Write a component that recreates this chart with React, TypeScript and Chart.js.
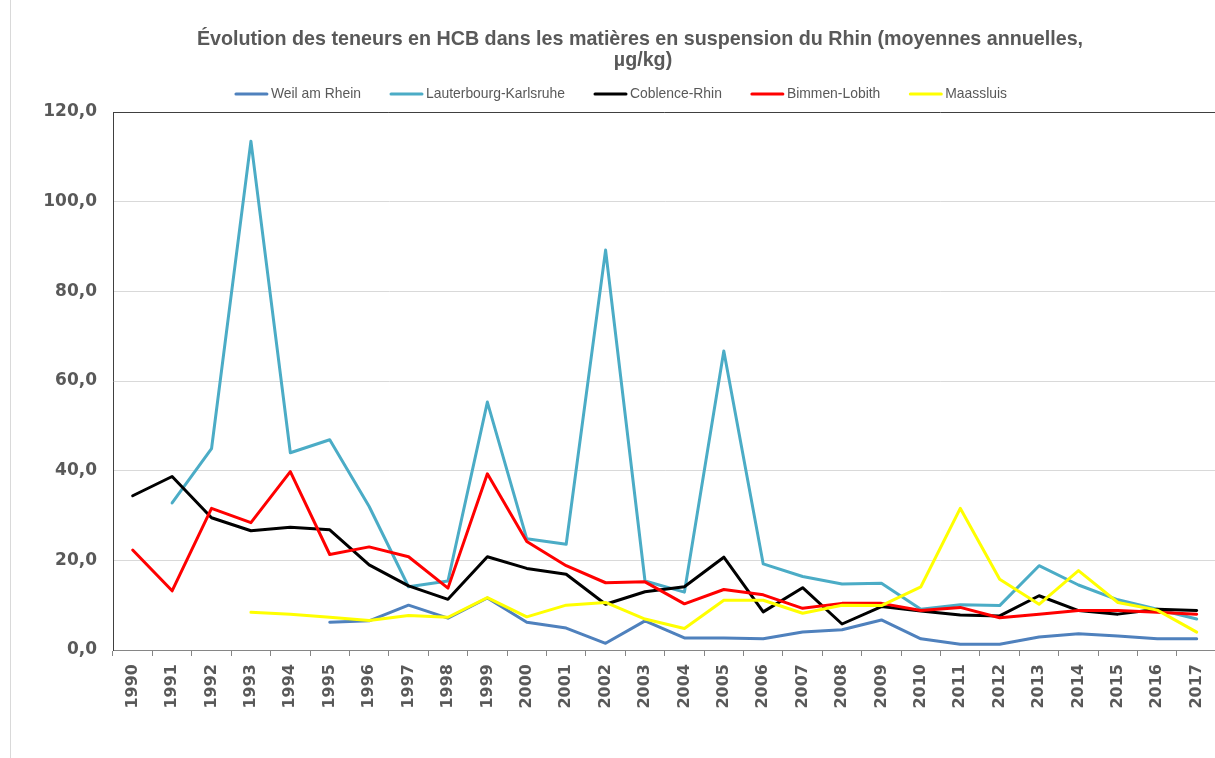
import React, { useEffect, useRef } from "react";
import { Chart, registerables } from "chart.js";

Chart.register(...registerables);

const years = [
  "1990", "1991", "1992", "1993", "1994", "1995", "1996", "1997", "1998", "1999",
  "2000", "2001", "2002", "2003", "2004", "2005", "2006", "2007", "2008", "2009",
  "2010", "2011", "2012", "2013", "2014", "2015", "2016", "2017",
];

const weilAmRhein = [
  null, null, null, null, null, 6.2, 6.5, 10.0, 7.1, 11.6,
  6.2, 4.9, 1.5, 6.5, 2.7, 2.7, 2.5, 4.0, 4.5, 6.7,
  2.5, 1.3, 1.3, 2.9, 3.6, 3.1, 2.5, 2.5,
];
const lauterbourgKarlsruhe = [
  null, 32.8, 44.9, 113.5, 44.0, 46.9, 32.0, 14.1, 15.4, 55.3,
  24.8, 23.6, 89.2, 15.4, 12.9, 66.7, 19.2, 16.4, 14.7, 14.9,
  9.1, 10.1, 9.9, 18.8, 14.5, 11.2, 9.1, 6.9,
];
const coblenceRhin = [
  34.4, 38.7, 29.5, 26.6, 27.4, 26.8, 19.0, 14.3, 11.3, 20.8,
  18.2, 16.9, 10.2, 13.0, 14.1, 20.7, 8.5, 13.9, 5.8, 9.7,
  8.7, 7.8, 7.6, 12.1, 8.8, 8.0, 9.1, 8.8,
];
const bimmenLobith = [
  22.3, 13.2, 31.6, 28.4, 39.8, 21.3, 23.0, 20.8, 13.8, 39.3,
  24.2, 18.8, 15.0, 15.2, 10.3, 13.5, 12.3, 9.3, 10.4, 10.4,
  8.8, 9.5, 7.2, 8.0, 8.8, 8.8, 8.4, 8.0,
];
const maassluis = [
  null, null, null, 8.4, 8.0, 7.3, 6.6, 7.7, 7.3, 11.7,
  7.4, 10.0, 10.6, 6.9, 4.8, 11.1, 11.1, 8.2, 10.0, 9.9,
  14.1, 31.6, 15.8, 10.2, 17.7, 10.6, 8.9, 4.0,
];

const seriesNames = ["Weil am Rhein", "Lauterbourg-Karlsruhe", "Coblence-Rhin", "Bimmen-Lobith", "Maassluis"];
const seriesColors = ["#4F81BD", "#4BACC6", "#000000", "#FF0000", "#FFFF00"];
const seriesValues = [weilAmRhein, lauterbourgKarlsruhe, coblenceRhin, bimmenLobith, maassluis];

const titleLines = [
  "Évolution des teneurs en HCB dans les matières en suspension du Rhin (moyennes annuelles,",
  "µg/kg)",
];

const textColor = "#595959";

const decorPlugin = {
  id: "decor",
  afterDraw(chart: any) {
    const { ctx, chartArea } = chart;
    ctx.save();
    // outer chart border (left edge)
    ctx.strokeStyle = "#d9d9d9";
    ctx.lineWidth = 1;
    ctx.beginPath();
    ctx.moveTo(10.5, 0);
    ctx.lineTo(10.5, chart.height);
    ctx.stroke();
    // plot area top border
    ctx.strokeStyle = "#404040";
    ctx.beginPath();
    ctx.moveTo(chartArea.left, Math.round(chartArea.top) + 0.5);
    ctx.lineTo(chartArea.right, Math.round(chartArea.top) + 0.5);
    ctx.stroke();

    // title
    ctx.fillStyle = textColor;
    ctx.font = "bold 19.7px 'Liberation Sans', Arial, sans-serif";
    ctx.textAlign = "center";
    ctx.textBaseline = "middle";
    ctx.fillText(titleLines[0], 640, 40);
    ctx.fillText(titleLines[1], 643, 61);

    // legend
    ctx.font = "13.9px 'Liberation Sans', Arial, sans-serif";
    const sampleW = 33;
    const gapText = 3;
    const gapItem = 29;
    const widths = seriesNames.map((n) => ctx.measureText(n).width);
    const total =
      widths.reduce((a: number, w: number) => a + sampleW + gapText + w, 0) + gapItem * (seriesNames.length - 1);
    let x = 621 - total / 2;
    const y = 94;
    ctx.textAlign = "left";
    seriesNames.forEach((name, i) => {
      ctx.strokeStyle = seriesColors[i];
      ctx.lineWidth = 3;
      ctx.lineCap = "round";
      ctx.beginPath();
      ctx.moveTo(x + 1, y);
      ctx.lineTo(x + sampleW - 1, y);
      ctx.stroke();
      ctx.fillStyle = textColor;
      ctx.fillText(name, x + sampleW + gapText, y);
      x += sampleW + gapText + widths[i] + gapItem;
    });
    ctx.restore();
  },
};

export default function App() {
  const canvasRef = useRef<HTMLCanvasElement | null>(null);

  useEffect(() => {
    if (!canvasRef.current) return;
    const datasets = seriesNames.map((name, i) => ({
      label: name,
      data: seriesValues[i],
      borderColor: seriesColors[i],
      backgroundColor: seriesColors[i],
      borderWidth: 3,
      borderJoinStyle: "round" as const,
      borderCapStyle: "round" as const,
      pointRadius: 0,
      pointHoverRadius: 0,
      tension: 0,
      fill: false,
      spanGaps: false,
      order: seriesNames.length - 1 - i,
    }));

    const chart = new Chart(canvasRef.current, {
      type: "line",
      data: { labels: years, datasets },
      options: {
        animation: false,
        responsive: true,
        maintainAspectRatio: false,
        layout: { padding: { top: 112, left: 0, right: 8.6, bottom: 0 } },
        plugins: {
          legend: { display: false },
          title: { display: false },
          tooltip: { enabled: false },
        },
        scales: {
          x: {
            type: "category",
            offset: true,
            afterFit: (scale: any) => {
              scale.height = 108;
            },
            grid: {
              offset: true,
              drawOnChartArea: false,
              drawTicks: true,
              tickLength: 6,
              color: "#868686",
            },
            border: { display: true, color: "#868686", width: 1 },
            ticks: {
              autoSkip: false,
              minRotation: 90,
              maxRotation: 90,
              padding: 8,
              color: textColor,
              font: { family: "'DejaVu Sans', Verdana, sans-serif", size: 16, weight: "bold" },
            },
          },
          y: {
            min: 0,
            max: 120,
            afterFit: (scale: any) => {
              scale.width = 113;
            },
            grid: { color: "#d9d9d9", lineWidth: 1, drawTicks: false },
            border: { display: true, color: "#404040", width: 1 },
            ticks: {
              stepSize: 20,
              padding: 16,
              color: textColor,
              font: { family: "'DejaVu Sans', Verdana, sans-serif", size: 17, weight: "bold" },
              callback: (v: any) => Number(v).toFixed(1).replace(".", ","),
            },
          },
        },
      },
      plugins: [decorPlugin],
    });
    return () => chart.destroy();
  }, []);

  return (
    <div
      style={{
        position: "fixed",
        left: 0,
        top: 0,
        width: 1215,
        height: 758,
        overflow: "hidden",
        background: "#ffffff",
      }}
    >
      <div style={{ position: "relative", width: 1225, height: 758 }}>
        <canvas ref={canvasRef} />
      </div>
    </div>
  );
}
